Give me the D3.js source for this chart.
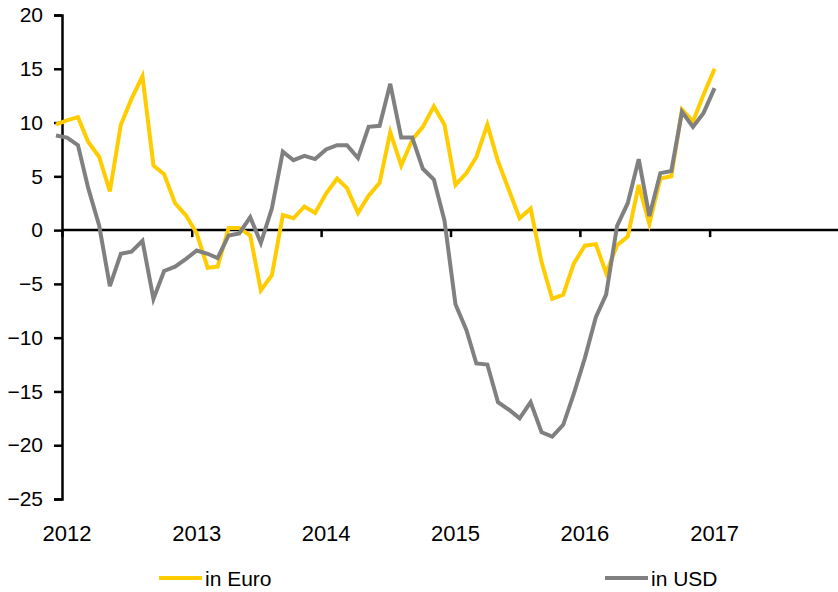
<!DOCTYPE html>
<html>
<head>
<meta charset="utf-8">
<script src="https://cdn.jsdelivr.net/npm/d3@7"></script>
<style>
  body { margin: 0; background: #fff; }
  text { font-family: "Liberation Sans", Arial, sans-serif; fill: #000; }
</style>
</head>
<body>
<script>
// monthly values, Dec 2011 .. Jan 2017
const startMonth = new Date(2011, 11, 15);
const euro = [9.8, 10.2, 10.5, 8.2, 6.8, 3.6, 9.8, 12.2, 14.3, 6.0, 5.2, 2.5, 1.4,
  -0.3, -3.5, -3.4, 0.2, 0.2, -0.5, -5.6, -4.2, 1.4, 1.1, 2.2, 1.6, 3.4,
  4.8, 3.9, 1.6, 3.2, 4.4, 9.1, 6.0, 8.4, 9.6, 11.5, 9.8, 4.2,
  5.3, 6.8, 9.8, 6.4, 3.7, 1.1, 2.0, -3.0, -6.4, -6.0, -3.1, -1.45, -1.3,
  -4.0, -1.4, -0.6, 4.2, 0.6, 4.8, 5.0, 11.2, 10.1, 12.6, 15.0];
const usd = [8.8, 8.6, 7.9, 3.9, 0.4, -5.2, -2.2, -2.0, -1.0, -6.4, -3.8, -3.4, -2.7,
  -1.9, -2.2, -2.6, -0.5, -0.3, 1.2, -1.2, 2.0, 7.3, 6.5, 6.9, 6.6, 7.5,
  7.9, 7.9, 6.7, 9.6, 9.7, 13.6, 8.6, 8.6, 5.7, 4.7, 0.9, -6.9,
  -9.3, -12.4, -12.5, -16.0, -16.7, -17.5, -16.0, -18.8, -19.2, -18.1, -15.2, -11.9, -8.1,
  -6.0, 0.4, 2.5, 6.6, 1.3, 5.3, 5.5, 11.0, 9.6, 10.9, 13.2];
const years = [2012, 2013, 2014, 2015, 2016, 2017];
const yTicks = [20, 15, 10, 5, 0, -5, -10, -15, -20, -25];
const seriesNames = ["in Euro", "in USD"];
const colors = ["#FFCC00", "#808080"];

const width = 838, height = 592;
const margin = ({ top: 15, right: 0, bottom: 93, left: 62 });

const dates = euro.map((d, i) => d3.timeMonth.offset(startMonth, i));

const x = d3.scaleTime()
  .domain([new Date(2012, 0, 1), new Date(2018, 0, 1)])
  .range([margin.left, width - margin.right + 1]);

const y = d3.scaleLinear()
  .domain([-25, 20])
  .range([height - margin.bottom, margin.top]);

const svg = d3.select("body").append("svg")
  .attr("width", width)
  .attr("height", height);

// y axis
const yAxis = g => g
  .attr("transform", `translate(${margin.left},0)`)
  .call(d3.axisLeft(y).tickValues(yTicks).tickSize(8).tickPadding(11))
  .call(g => g.select(".domain").attr("stroke-width", 2.5))
  .call(g => g.selectAll(".tick line").attr("stroke-width", 2.5))
  .call(g => g.selectAll(".tick text").attr("font-size", 21).attr("font-family", null));

// x axis on zero line
const xAxis = g => g
  .attr("transform", `translate(0,${y(0)})`)
  .call(d3.axisBottom(x).tickValues(years.map(v => new Date(v, 0, 1))).tickSize(7).tickFormat(""))
  .call(g => g.select(".domain").attr("stroke-width", 2.5).attr("d", `M${margin.left},0H${width}`))
  .call(g => g.selectAll(".tick line").attr("stroke-width", 2.5));

svg.append("g").call(xAxis);
svg.append("g").call(yAxis);

svg.append("g")
  .selectAll("text")
  .data(years)
  .join("text")
  .attr("x", d => x(new Date(d, 0, 1)) + 5)
  .attr("y", 541)
  .attr("text-anchor", "middle")
  .attr("font-size", 22)
  .text(d => d);

const line = d3.line()
  .x((d, i) => x(dates[i]))
  .y(d => y(d));

[euro, usd].forEach((s, k) => {
  svg.append("path")
    .datum(s)
    .attr("fill", "none")
    .attr("stroke", colors[k])
    .attr("stroke-width", 4)
    .attr("stroke-linejoin", "miter")
    .attr("d", line);
});

// legend
const legend = svg.append("g")
  .selectAll("g")
  .data(seriesNames)
  .join("g")
  .attr("transform", (d, i) => `translate(${[159, 605][i]},578)`);

legend.append("line")
  .attr("x1", 0).attr("x2", 43)
  .attr("stroke", (d, i) => colors[i])
  .attr("stroke-width", 4);

legend.append("text")
  .attr("x", 46)
  .attr("y", 7.5)
  .attr("font-size", 21)
  .text(d => d);
</script>
</body>
</html>
